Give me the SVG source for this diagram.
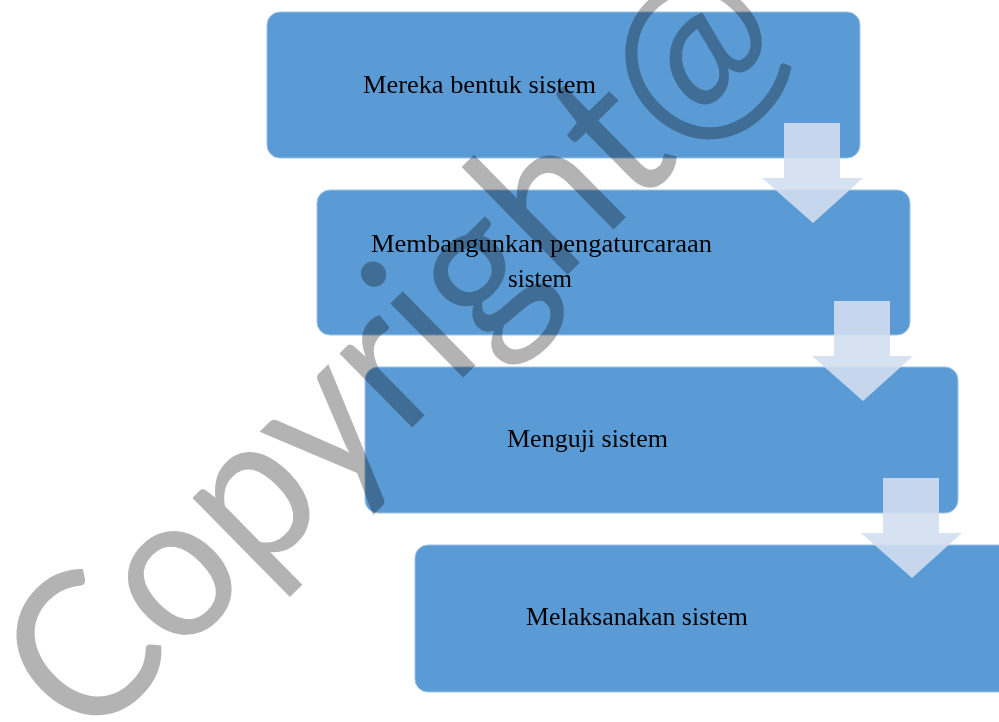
<svg xmlns="http://www.w3.org/2000/svg" width="999" height="722" viewBox="0 0 999 722">
  <style>
    .box { fill: #5b9bd5; stroke: #9cc2e5; stroke-width: 1; }
    .lbl { font-family: "Liberation Serif", "Times New Roman", serif; font-size: 24.5px; fill: #000; }
    .arrow { fill: #d2deef; fill-opacity: 0.9; }
    .mark { font-family: Lato, "Open Sans", sans-serif; font-weight: 400; font-size: 205px; fill: #b3b3b3; mix-blend-mode: multiply; }
  </style>
  <rect width="999" height="722" fill="#fff"/>

  <g id="step1">
    <rect class="box" x="267" y="12" width="593" height="146" rx="13"/>
    <text class="lbl" x="363" y="93" textLength="233" lengthAdjust="spacingAndGlyphs">Mereka bentuk sistem</text>
  </g>
  <g id="step2">
    <rect class="box" x="317" y="190" width="593" height="145" rx="13"/>
    <text class="lbl" x="371" y="252" textLength="341" lengthAdjust="spacingAndGlyphs">Membangunkan pengaturcaraan</text>
    <text class="lbl" x="508" y="287" textLength="64" lengthAdjust="spacingAndGlyphs">sistem</text>
  </g>
  <g id="step3">
    <rect class="box" x="365" y="367" width="593" height="146" rx="13"/>
    <text class="lbl" x="507" y="447" textLength="161" lengthAdjust="spacingAndGlyphs">Menguji sistem</text>
  </g>
  <g id="step4">
    <rect class="box" x="415" y="545" width="600" height="147" rx="13"/>
    <text class="lbl" x="526" y="625" textLength="222" lengthAdjust="spacingAndGlyphs">Melaksanakan sistem</text>
  </g>

  <g id="connectors">
    <polygon class="arrow" points="784,123 840,123 840,178 863,178 813,223 762,178 784,178"/>
    <polygon class="arrow" points="834,301 890,301 890,356 913,356 863,401 812,356 834,356"/>
    <polygon class="arrow" points="883,478 939,478 939,533 962,533 912,578 861,533 883,533"/>
  </g>

  <text class="mark" transform="translate(86,748) rotate(-44.5)" textLength="1000" lengthAdjust="spacingAndGlyphs">Copyright@</text>
</svg>
